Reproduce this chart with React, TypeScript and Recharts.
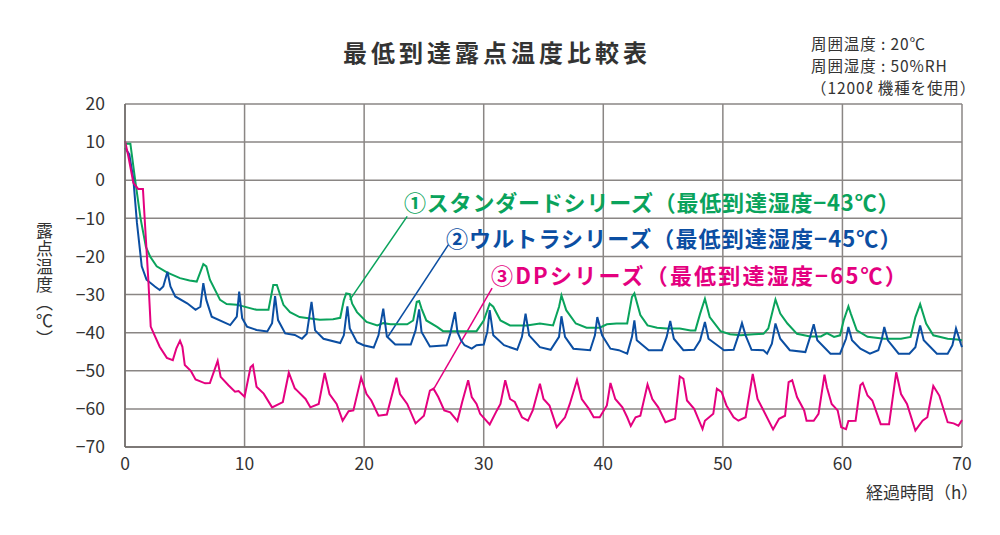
import { LineChart, Line, XAxis, YAxis, CartesianGrid, ReferenceLine } from "recharts";

// [hours, dew point °C]
const standardSeries: [number, number][] = [
  [0, 9.6], [0.45, 9.6], [0.85, 0], [1.3, -10], [1.75, -17.5], [2.1, -20], [2.65, -22.6], [3.5, -24.2],
  [4.6, -25.7], [5.4, -26.3], [6.0, -26.6], [6.55, -22], [6.8, -22.6], [7.1, -26.1], [7.95, -31.4],
  [8.5, -32.5], [9.35, -32.7], [9.9, -33.1], [11.0, -34], [12.0, -34], [12.4, -27.5], [12.7, -27.5],
  [13.25, -32.7], [13.8, -34.6], [14.6, -35.9], [15.5, -36.3], [16.3, -36.6], [17.4, -36.5], [18.0, -36.1],
  [18.3, -31.5], [18.5, -29.7], [18.8, -29.9], [19.0, -32.4], [19.4, -34.6], [20.2, -37.2], [21.1, -38.1],
  [21.6, -37.5], [22.2, -37.8], [23.6, -37.8], [24.1, -36.8], [24.4, -31.9], [24.6, -31.7], [24.8, -33.7],
  [25.2, -36.8], [26.1, -38.5], [26.6, -39.6], [27.8, -39.6], [29.4, -39.6], [30.0, -36.8], [30.5, -32.4],
  [30.8, -33.2], [31.4, -36.8], [32.2, -38.1], [33.6, -38.1], [34.7, -37.6], [35.8, -38.1], [36.3, -33.2],
  [36.5, -30.2], [36.9, -34.1], [37.7, -37.6], [38.6, -38.7], [39.7, -38.7], [40.3, -37.8], [41.1, -37.6],
  [42.0, -37.6], [42.4, -30.6], [42.6, -29.7], [43.1, -35.4], [43.7, -38.1], [44.5, -38.7], [45.3, -38.9],
  [46.4, -38.9], [47.3, -39.4], [47.7, -39.4], [48.1, -35], [48.5, -31.1], [48.9, -35.9], [49.8, -39.6],
  [50.6, -40.4], [51.5, -40.7], [52.6, -40.4], [53.4, -40.3], [53.8, -38.9], [54.4, -31.3], [54.8, -35],
  [55.4, -37.6], [56.2, -40.3], [57.3, -41], [58.2, -41], [58.7, -40.1], [59.3, -41.1], [59.8, -40.7],
  [60.1, -36.8], [60.5, -33.1], [60.7, -35], [61.2, -39.4], [62.1, -41.1], [63.5, -41.6], [64.9, -41.6],
  [65.7, -41.1], [66.1, -35.9], [66.5, -32.5], [67.0, -37.6], [67.6, -40.7], [68.8, -41.6], [69.6, -41.8],
  [70, -42],
];

const ultraSeries: [number, number][] = [
  [0, 8.5], [0.36, 6.8], [0.7, 0.2], [1.0, -11.2], [1.4, -22.6], [1.8, -26.1], [2.5, -27.9], [2.9, -28.8],
  [3.2, -27.9], [3.55, -24], [3.8, -27.9], [4.2, -30.5], [5.2, -32.3], [5.9, -34], [6.3, -33.2], [6.55, -27],
  [6.8, -31.4], [7.25, -35.8], [8.8, -38], [9.35, -35.8], [9.55, -29.2], [9.8, -36.2], [10.2, -38.4],
  [11.0, -39.3], [11.9, -39.7], [12.3, -37.5], [12.55, -30.4], [12.8, -36.7], [13.4, -40.2], [14.2, -40.6],
  [14.8, -41.6], [15.2, -40.3], [15.6, -31.9], [15.9, -39.4], [16.6, -41.6], [18.0, -42.7], [18.3, -40.7],
  [18.6, -33.1], [18.8, -38.9], [19.4, -42.5], [19.95, -43.3], [20.8, -43.9], [21.2, -40.7], [21.6, -33.7],
  [21.9, -41], [22.6, -43.1], [23.9, -43.1], [24.3, -39.4], [24.6, -33.9], [24.8, -39.8], [25.5, -43.6],
  [26.9, -43.3], [27.2, -40.3], [27.6, -34.6], [27.8, -39.8], [28.1, -42], [28.4, -43.3], [29.0, -44.2],
  [29.4, -43.3], [30.0, -43.1], [30.3, -39.8], [30.5, -34.1], [30.8, -40.7], [31.7, -43.3], [32.8, -44.5],
  [33.2, -41.1], [33.5, -35], [33.8, -40.7], [34.7, -43.8], [35.6, -44.5], [36.3, -41.1], [36.5, -35.7],
  [36.8, -41.1], [37.5, -44.2], [38.9, -44.6], [39.3, -40.7], [39.5, -35.9], [39.9, -40.7], [40.6, -44.2],
  [41.3, -44.6], [42.0, -45.5], [42.4, -41.1], [42.6, -36.8], [42.8, -42], [43.8, -44.6], [44.9, -44.6],
  [45.3, -41.1], [45.6, -36.9], [45.9, -41.6], [46.7, -44.6], [47.6, -44.5], [48.1, -42], [48.5, -37.2],
  [48.8, -41.6], [50.1, -44.6], [50.9, -44.5], [51.3, -40.7], [51.6, -37.5], [51.9, -40.7], [52.4, -44.5],
  [53.4, -44.6], [53.7, -45.5], [54.1, -42.9], [54.4, -37.6], [54.8, -41.6], [55.6, -44.6], [56.9, -45.1],
  [57.3, -41.1], [57.6, -37.8], [57.9, -42], [59.0, -45.5], [59.8, -45.5], [60.3, -41.6], [60.5, -38.5],
  [60.8, -42], [61.5, -44.2], [62.3, -45.5], [63.0, -44.6], [63.3, -41.6], [63.5, -38.5], [63.8, -42],
  [64.7, -45.5], [65.6, -45.5], [66.1, -43.8], [66.5, -38.1], [66.8, -42], [67.9, -45.5], [68.8, -45.5],
  [69.2, -43.3], [69.5, -38.9], [69.9, -42.9], [70, -43.8],
];

const dpSeries: [number, number][] = [
  [0, 10.3], [0.28, 6.3], [0.7, -0.7], [1.1, -2.3], [1.5, -2.3], [1.7, -13], [1.95, -26.1], [2.15, -38.4],
  [2.4, -40.2], [2.9, -43.7], [3.5, -46.6], [4.0, -47.2], [4.3, -44.1], [4.6, -42.1], [4.8, -43.7], [5.0, -48.5],
  [5.5, -50], [5.9, -52.3], [6.7, -53.3], [7.1, -53.2], [7.75, -47.4], [8.0, -51.6], [8.65, -53.8], [9.2, -55.5],
  [9.5, -55.3], [10.0, -56.8], [10.5, -49.1], [10.7, -48.5], [11.0, -54.2], [11.6, -56], [12.3, -59.6],
  [13.2, -58.2], [13.7, -50.5], [14.2, -54.6], [14.4, -55.2], [15.1, -57.4], [15.5, -59.6], [16.2, -58.7],
  [16.7, -50.6], [17.1, -56.1], [17.7, -58.7], [18.2, -63.1], [18.7, -60.6], [19.1, -60.4], [19.75, -51.8],
  [20.2, -56.1], [20.6, -57.8], [21.2, -61.8], [21.9, -61.5], [22.7, -51.8], [23.0, -56.1], [23.6, -58.7],
  [24.3, -63.8], [25.0, -61.8], [25.5, -55.2], [25.8, -54.7], [26.2, -56.9], [26.7, -60.4], [27.2, -60.9],
  [27.8, -63.2], [28.2, -58.2], [28.7, -52.5], [29.0, -56.9], [29.4, -58.7], [29.7, -61.3], [30.5, -64.1],
  [31.1, -60.4], [31.4, -58.7], [31.8, -52.5], [32.2, -57.4], [32.6, -58.2], [33.2, -62.2], [33.7, -63.1],
  [34.1, -60.4], [34.7, -53.4], [35.0, -57.4], [35.5, -59.1], [36.1, -64.8], [36.8, -62.2], [37.2, -58.7],
  [37.8, -52.4], [38.2, -57.4], [38.8, -60], [39.2, -62.2], [39.7, -62.2], [40.3, -59.1], [40.6, -53.2],
  [41.0, -57.4], [41.6, -59.6], [42.0, -62.2], [42.3, -64.5], [42.7, -62.2], [43.1, -61.8], [43.7, -53.6],
  [44.1, -57.4], [44.6, -59.6], [45.2, -63.5], [46.0, -62.6], [46.4, -51.5], [46.7, -52.1], [47.0, -57.8],
  [47.6, -60], [48.3, -65.3], [48.5, -63.1], [49.2, -61.3], [49.5, -54.7], [49.9, -55.6], [50.3, -59.1],
  [50.9, -62.2], [51.3, -63.1], [51.9, -62.2], [52.5, -50.8], [52.9, -57.4], [53.4, -60.4], [54.2, -65.4],
  [54.7, -62.6], [55.2, -61.8], [55.5, -53], [55.8, -52.5], [56.2, -56.9], [56.8, -60.4], [57.0, -63.1],
  [57.6, -63.1], [58.0, -61.3], [58.5, -51], [58.7, -54.3], [59.1, -58.7], [59.6, -60.4], [59.9, -64.8],
  [60.3, -65.3], [60.5, -63.2], [61.1, -63.1], [61.5, -53.8], [61.7, -53.2], [62.1, -56.5], [62.5, -57.8],
  [63.2, -64], [63.9, -64], [64.5, -50.4], [64.9, -56.1], [65.4, -58.7], [66.1, -65.7], [66.7, -63.1],
  [67.1, -62.2], [67.6, -54], [68.1, -56.5], [68.8, -63.5], [69.3, -63.8], [69.7, -64.4], [70, -62.9],
];

const xTicks = [0, 10, 20, 30, 40, 50, 60, 70];
const yTicks = [20, 10, 0, -10, -20, -30, -40, -50, -60, -70];

const seriesLabels = [
  "①スタンダードシリーズ（最低到達湿度−43℃）",
  "②ウルトラシリーズ（最低到達湿度−45℃）",
  "③DPシリーズ（最低到達湿度−65℃）",
];
const notes = ["周囲温度 : 20℃", "周囲湿度 : 50%RH", "（1200ℓ 機種を使用）"];

const GREEN = "#0aa35c";
const BLUE = "#0b4ea2";
const PINK = "#e4007f";
const FONT = '"Noto Sans CJK JP", "Noto Sans", sans-serif';

const toRows = (s: [number, number][]) => s.map(([h, v]) => ({ h, v }));

const fmtY = (v: number) => (v < 0 ? `−${-v}` : `${v}`);

const labelStyle = { position: "absolute", fontSize: 22, fontWeight: 700, lineHeight: 1, letterSpacing: 0.8, whiteSpace: "nowrap" } as const;

export default function App() {
  return (
    <div style={{ position: "absolute", left: 0, top: 0, width: 1000, height: 535, background: "#fff", fontFamily: FONT, color: "#333" }}>
      <LineChart width={1000} height={535} margin={{ top: 104, right: 38, bottom: 58, left: 55 }}>
        <CartesianGrid stroke="#8a8684" strokeWidth={1.5} />
        <XAxis
          type="number"
          dataKey="h"
          domain={[0, 70]}
          ticks={xTicks}
          allowDuplicatedCategory={false}
          axisLine={{ stroke: "#6f6b69", strokeWidth: 1.5 }}
          tickLine={false}
          tick={{ fill: "#333", fontSize: 17.5, fontFamily: FONT }}
          tickMargin={5}
        />
        <YAxis
          type="number"
          domain={[-70, 20]}
          ticks={yTicks}
          width={70}
          tickFormatter={fmtY}
          axisLine={{ stroke: "#6f6b69", strokeWidth: 1.5 }}
          tickLine={false}
          tick={{ fill: "#333", fontSize: 17.5, fontFamily: FONT }}
          tickMargin={14}
        />
        <ReferenceLine segment={[{ x: 18.8, y: -31.4 }, { x: 23.6, y: -9.5 }]} stroke={GREEN} strokeWidth={1.5} ifOverflow="visible" />
        <ReferenceLine segment={[{ x: 22.0, y: -41 }, { x: 27.05, y: -16.9 }]} stroke={BLUE} strokeWidth={1.5} ifOverflow="visible" />
        <ReferenceLine segment={[{ x: 25.85, y: -54.6 }, { x: 30.7, y: -28.3 }]} stroke={PINK} strokeWidth={1.5} ifOverflow="visible" />
        <Line data={toRows(standardSeries)} dataKey="v" type="linear" stroke={GREEN} strokeWidth={2} dot={false} isAnimationActive={false} />
        <Line data={toRows(ultraSeries)} dataKey="v" type="linear" stroke={BLUE} strokeWidth={2} dot={false} isAnimationActive={false} />
        <Line data={toRows(dpSeries)} dataKey="v" type="linear" stroke={PINK} strokeWidth={2} dot={false} isAnimationActive={false} />
      </LineChart>

      {/* title and notes */}
      <div style={{ position: "absolute", left: 0, width: 994, top: 40, textAlign: "center", fontSize: 24, fontWeight: 700, letterSpacing: 4, lineHeight: 1 }}>
        最低到達露点温度比較表
      </div>
      <div style={{ position: "absolute", left: 811, top: 32, fontSize: 15.5, letterSpacing: 0.9, lineHeight: "22px" }}>
        {notes.map((n) => (
          <div key={n}>{n}</div>
        ))}
      </div>

      {/* series labels */}
      <div style={{ ...labelStyle, left: 404, top: 190, color: GREEN }}>{seriesLabels[0]}</div>
      <div style={{ ...labelStyle, left: 446, top: 226, color: BLUE, letterSpacing: 1.1 }}>{seriesLabels[1]}</div>
      <div style={{ ...labelStyle, left: 491, top: 263, color: PINK, letterSpacing: 2.2 }}>{seriesLabels[2]}</div>

      {/* axis titles */}
      <div style={{ position: "absolute", left: 36, top: 222, writingMode: "vertical-rl", fontSize: 17, letterSpacing: 1, lineHeight: 1 }}>
        露点温度（<span style={{ textOrientation: "upright" }}>℃</span>）
      </div>
      <div style={{ position: "absolute", left: 866, top: 483, fontSize: 17, lineHeight: 1 }}>経過時間（h）</div>
    </div>
  );
}
